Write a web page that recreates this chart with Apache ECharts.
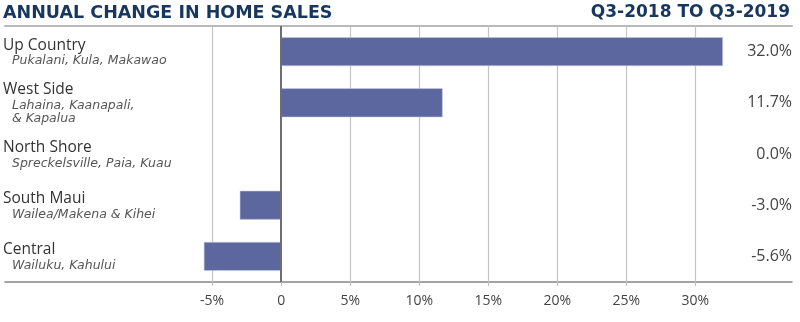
<!DOCTYPE html>
<html>
<head>
<meta charset="utf-8">
<style>
  html, body { margin: 0; padding: 0; background: #fff; }
  #chart { width: 800px; height: 322px; }
</style>
<script src="https://cdn.jsdelivr.net/npm/echarts@6/dist/echarts.min.js"></script>
</head>
<body>
<div id="chart"></div>
<script>
// Regions, their communities and the year-over-year change in sales (%)
const regions = ['Up Country', 'West Side', 'North Shore', 'South Maui', 'Central'];
const communities = [
  'Pukalani, Kula, Makawao',
  'Lahaina, Kaanapali,\n& Kapalua',
  'Spreckelsville, Paia, Kuau',
  'Wailea/Makena & Kihei',
  'Wailuku, Kahului'
];
const changePct = [32.0, 11.7, 0.0, -3.0, -5.6];
const tickValues = [-5, 0, 5, 10, 15, 20, 25, 30];

const FONT = '"Open Sans", "Noto Sans", sans-serif';
const WIDE = '"DejaVu Sans", "Open Sans", sans-serif';
const chart = echarts.init(document.getElementById('chart'), null, { renderer: 'canvas' });

// category label: region name over an indented italic list of communities
function regionLabel(name, idx) {
  const lines = communities[idx].split('\n').map(s => '{sub|' + s + '}');
  return '{name|' + name + '}\n' + lines.join('\n');
}

const titleStyle = { fontFamily: WIDE, fontSize: 17.5, fontWeight: 'bold', color: '#17375e' };

chart.setOption({
  animation: false,
  backgroundColor: '#ffffff',
  title: [
    { text: 'ANNUAL CHANGE IN HOME SALES', left: 3, top: 4, padding: 0, textStyle: titleStyle },
    { text: 'Q3-2018 TO Q3-2019', right: 10, top: 4, padding: 0,
      textStyle: Object.assign({}, titleStyle, { fontSize: 17 }) }
  ],
  grid: { left: 5, right: 8, top: 26, bottom: 40, containLabel: false },
  xAxis: [
    {
      type: 'value', min: -20, max: 37, interval: 5,
      axisLine: { show: true, lineStyle: { color: '#858585', width: 1.5 } },
      axisTick: { show: true, customValues: tickValues, length: 4, lineStyle: { color: '#bdbdbd' } },
      axisLabel: {
        customValues: tickValues,
        margin: 12,
        fontFamily: FONT, fontSize: 14, color: '#444',
        formatter: v => (v === 0 ? '0' : v + '%')
      },
      splitLine: { show: false }
    },
    {
      type: 'value', min: -20, max: 37, position: 'top',
      axisLine: { show: true, lineStyle: { color: '#b9b9b9', width: 2 } },
      axisTick: { show: false }, axisLabel: { show: false }, splitLine: { show: false }
    }
  ],
  yAxis: [
    {
      type: 'category', data: regions, inverse: true,
      axisLine: { show: false }, axisTick: { show: false },
      axisLabel: {
        inside: true, margin: -2, align: 'left',
        formatter: regionLabel,
        rich: {
          name: { fontFamily: FONT, fontSize: 15.5, color: '#333', lineHeight: 19 },
          sub: { fontFamily: WIDE, fontSize: 12.5, fontStyle: 'italic', color: '#555',
                 lineHeight: 13, padding: [0, 0, 0, 9] }
        }
      }
    },
    {
      type: 'category', data: regions, inverse: true, position: 'right',
      axisLine: { show: false }, axisTick: { show: false },
      axisLabel: {
        inside: true, margin: 0, align: 'right',
        fontFamily: FONT, fontSize: 16, color: '#444',
        formatter: (v, i) => changePct[i].toFixed(1) + '%'
      }
    }
  ],
  series: [
    {
      type: 'bar',
      data: changePct,
      barWidth: 29,
      itemStyle: { color: '#5c67a0', borderColor: '#c9cde0', borderWidth: 0.6 },
      markLine: {
        silent: true, symbol: 'none', z: 1,
        label: { show: false },
        lineStyle: { color: '#c4c4c4', width: 1.2, type: 'solid' },
        data: tickValues.filter(v => v !== 0).map(v => ({ xAxis: v }))
      }
    },
    {
      type: 'line',
      data: [],
      markLine: {
        silent: true, symbol: 'none', z: 6,
        label: { show: false },
        lineStyle: { color: '#6d6e71', width: 2, type: 'solid' },
        data: [{ xAxis: 0 }]
      }
    }
  ]
});
</script>
</body>
</html>
